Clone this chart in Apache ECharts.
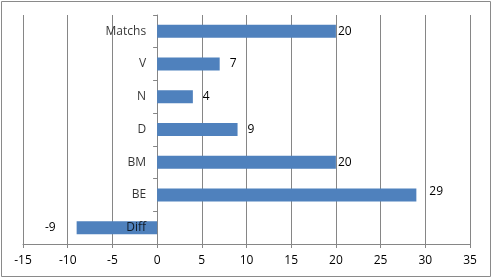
<!DOCTYPE html>
<html>
<head>
<meta charset="utf-8">
<script src="https://cdn.jsdelivr.net/npm/echarts@6/dist/echarts.min.js"></script>
<style>
html,body{margin:0;padding:0;background:#fff;}
#c{width:492px;height:278px;}
</style>
</head>
<body>
<div id="c"></div>
<script>
var categories = ['Matchs', 'V', 'N', 'D', 'BM', 'BE', 'Diff'];
var values = [20, 7, 4, 9, 20, 29, -9];
var xTicks = {min: -15, max: 35, step: 5};

// label placement styling (separate from data)
var labelGap = [2, 10, 10, 10, 2, 13, 21];
var labelShiftY = [0, 0, 0, 0, 0, -3, 0];

var FONT = '"Open Sans", "Liberation Sans", sans-serif';
var GRAY = '#868686';

var seriesData = values.map(function (v, i) {
  return {
    value: v,
    label: {
      position: v < 0 ? 'left' : 'right',
      distance: labelGap[i],
      offset: [0, labelShiftY[i]]
    }
  };
});

// category names drawn next to the zero line (where the category axis sits)
var catLabelData = categories.map(function (c) { return [0, c]; });

var chart = echarts.init(document.getElementById('c'), null, {renderer: 'canvas'});
chart.setOption({
  animation: false,
  backgroundColor: '#fff',
  graphic: [{
    type: 'rect',
    shape: {x: 1.5, y: 1.5, width: 489, height: 275},
    style: {fill: 'none', stroke: '#8a8a8a', lineWidth: 1},
    silent: true,
    z: 100
  }],
  grid: {left: 23, right: 22, top: 15, bottom: 34, containLabel: false, outerBoundsMode: 'none'},
  xAxis: {
    type: 'value',
    min: xTicks.min,
    max: xTicks.max,
    interval: xTicks.step,
    axisLine: {show: true, onZero: false, lineStyle: {color: GRAY, width: 1}},
    axisTick: {show: true, length: 4, lineStyle: {color: GRAY}},
    splitLine: {show: true, lineStyle: {color: GRAY, width: 1}},
    axisLabel: {color: '#000', fontFamily: FONT, fontSize: 12, margin: 11}
  },
  yAxis: {
    type: 'category',
    inverse: true,
    data: categories,
    axisLine: {show: true, onZero: true, lineStyle: {color: GRAY, width: 1}},
    axisTick: {show: true, length: 4, alignWithLabel: false, lineStyle: {color: GRAY}},
    axisLabel: {show: false},
    splitLine: {show: false}
  },
  series: [{
    type: 'bar',
    data: seriesData,
    barWidth: 13,
    itemStyle: {color: '#4F81BD'},
    label: {show: true, color: '#000', fontFamily: FONT, fontSize: 12}
  }, {
    type: 'scatter',
    data: catLabelData,
    symbolSize: 0,
    silent: true,
    z: 10,
    label: {
      show: true,
      position: 'left',
      distance: 11,
      color: '#000',
      fontFamily: FONT,
      fontSize: 12,
      formatter: function (p) { return p.value[1]; }
    }
  }]
});
</script>
</body>
</html>
